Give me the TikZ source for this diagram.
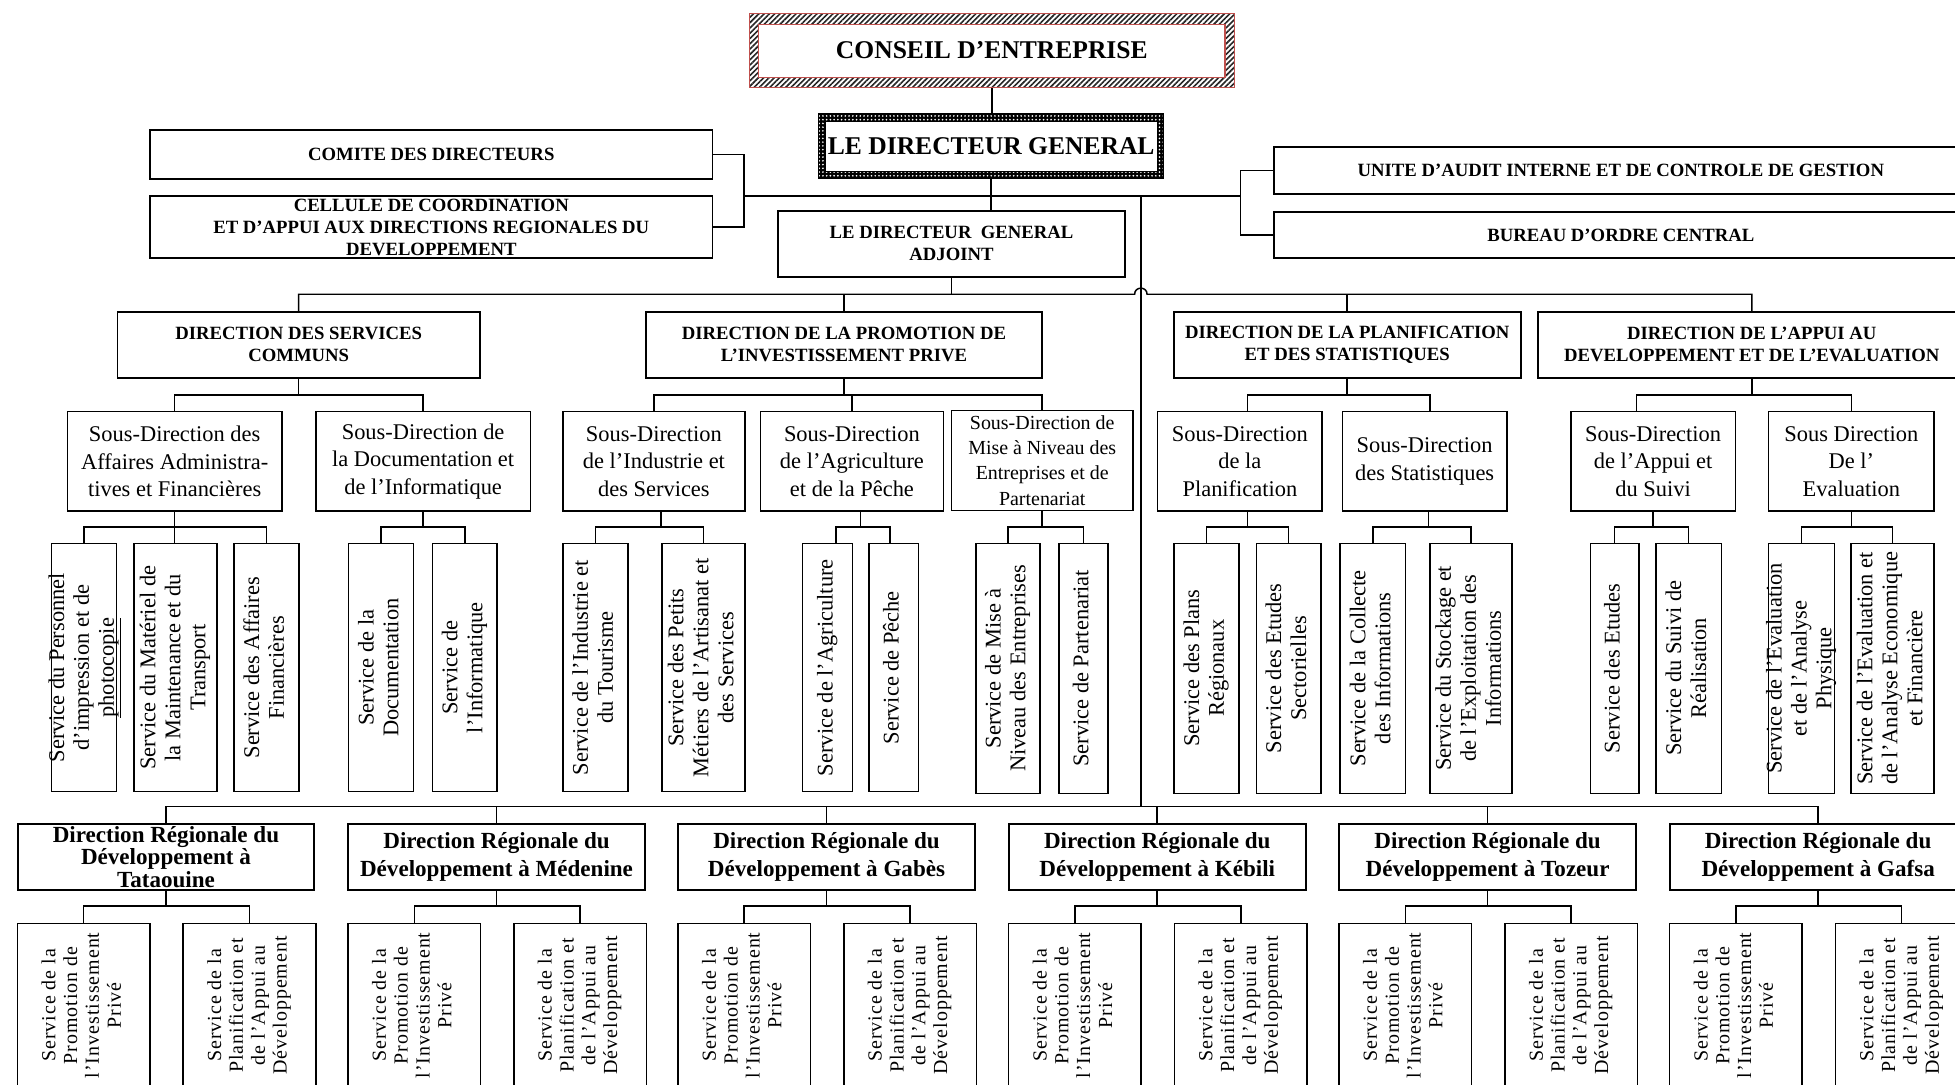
\documentclass[tikz,border=0pt]{standalone}
\usepackage{fontspec}
\setmainfont{Liberation Serif}
\newfontfamily\spacedserif[LetterSpace=5]{Liberation Serif}
\usetikzlibrary{patterns.meta}
\definecolor{framered}{RGB}{192,80,77}
% vertical (bottom-to-top) multi-line label, centred, allowed to overflow its box
\newcommand\svtext[1]{\makebox[0pt]{\rotatebox{90}{\begin{tabular}{@{}c@{}}#1\end{tabular}}}}

\begin{document}
\begin{tikzpicture}[x=1pt,y=-1pt,
  box/.style={draw, line width=1.3pt, fill=white, inner sep=0pt, align=center},
  hdr/.style={box, line width=1.5pt, font=\bfseries\fontsize{15}{17.5}\selectfont},
  subdir/.style={box, font=\fontsize{18}{22}\selectfont},
  svc/.style={box, line width=1.2pt, font=\fontsize{18}{20}\selectfont},
  regdir/.style={box, line width=1.5pt, minimum width=238, minimum height=52.9, font=\bfseries\fontsize{18.5}{22}\selectfont},
  regsvc/.style={box, line width=1.2pt, minimum width=106.3, minimum height=131.4, font=\spacedserif\fontsize{16}{17.5}\selectfont},
  conn/.style={line width=1.2pt},
  conseilbox/.style={draw=framered, line width=1.2pt,
    pattern={Lines[angle=45,distance=3pt,line width=1.3pt]}, pattern color=black!85,
    minimum width=389, minimum height=59.3, inner sep=0pt,
    font=\bfseries\fontsize{20.5}{24}\selectfont,
    path picture={\draw[framered, fill=white, line width=1.2pt]
      ([xshift=7.5pt,yshift=-8.8pt]path picture bounding box.north west) rectangle
      ([xshift=-7.5pt,yshift=8pt]path picture bounding box.south east);}},
  dgbox/.style={draw=black, line width=0.8pt, preaction={fill=black},
    pattern={Dots[radius=0.75pt,distance=3pt]}, pattern color=white,
    minimum width=277, minimum height=52.6, inner sep=0pt,
    font=\bfseries\fontsize{20.5}{24}\selectfont,
    path picture={\draw[black, fill=white, line width=1pt]
      ([xshift=5.5pt,yshift=-6.7pt]path picture bounding box.north west) rectangle
      ([xshift=-5pt,yshift=5.8pt]path picture bounding box.south east);}},
]
\useasboundingbox (0,0) rectangle (1568,870);
\fill[white] (0,0) rectangle (1568,870);
\clip (0,0) rectangle (1568,870);

% ---------------- top management ----------------
\node[conseilbox] (conseil) at (795.5,40.35) {CONSEIL D’ENTREPRISE};
\node[dgbox] (dg) at (795,117.2) {LE DIRECTEUR GENERAL};
\node[hdr, minimum width=451.2, minimum height=39.5] (comite) at (345.9,124.05) {COMITE DES DIRECTEURS};
\node[hdr, minimum width=451.2, minimum height=50] (cellule) at (345.9,182.2)
  {CELLULE DE COORDINATION\\ET D’APPUI AUX DIRECTIONS REGIONALES DU\\DEVELOPPEMENT};
\node[hdr, minimum width=556.8, minimum height=38] (unite) at (1300,136.6)
  {UNITE D’AUDIT INTERNE ET DE CONTROLE DE GESTION};
\node[hdr, minimum width=556.8, minimum height=37.4] (bureau) at (1300,188.5) {BUREAU D’ORDRE CENTRAL};
\node[hdr, minimum width=278.3, minimum height=53] (dga) at (763.15,195.5) {LE DIRECTEUR~~GENERAL\\ADJOINT};

% ---------------- directions ----------------
\node[hdr, minimum width=290.8, minimum height=53] (dsc) at (239.6,276.5) {DIRECTION DES SERVICES\\COMMUNS};
\node[hdr, minimum width=318.2, minimum height=53] (dpip) at (676.9,276.5) {DIRECTION DE LA PROMOTION DE\\L’INVESTISSEMENT PRIVE};
\node[hdr, minimum width=278.2, minimum height=53] (dps) at (1080.5,276.5) {DIRECTION DE LA PLANIFICATION\\ET DES STATISTIQUES};
\node[hdr, minimum width=343.6, minimum height=53] (dad) at (1405,276.5) {DIRECTION DE L’APPUI AU\\DEVELOPPEMENT ET DE L’EVALUATION};

% ---------------- sous-directions ----------------
\node[subdir, minimum width=172.2, minimum height=80] (sd1) at (140.1,370) {Sous-Direction des\\Affaires Administra-\\tives et Financières};
\node[subdir, minimum width=172.3, minimum height=80] (sd2) at (339.35,370) {Sous-Direction de\\la Documentation et\\de l’Informatique};
\node[subdir, minimum width=145.9, minimum height=80] (sd3) at (524.45,370) {Sous-Direction\\de l’Industrie et\\des Services};
\node[subdir, minimum width=146.6, minimum height=80] (sd4) at (683.3,370) {Sous-Direction\\de l’Agriculture\\et de la Pêche};
\node[subdir, minimum width=145.8, minimum height=80, font=\fontsize{16}{20.3}\selectfont] (sd5) at (835.9,369.3)
  {Sous-Direction de\\Mise à Niveau des\\Entreprises et de\\Partenariat};
\node[subdir, minimum width=131.9, minimum height=80] (sd6) at (994.45,370) {Sous-Direction\\de la\\Planification};
\node[subdir, minimum width=131.7, minimum height=80] (sd7) at (1142.65,370) {Sous-Direction\\des Statistiques};
\node[subdir, minimum width=131.8, minimum height=80] (sd8) at (1325.9,370) {Sous-Direction\\de l’Appui et\\du Suivi};
\node[subdir, minimum width=132.7, minimum height=80] (sd9) at (1484.85,370) {Sous Direction\\De l’\\Evaluation};

% ---------------- services ----------------
\node[svc, minimum width=52.3, minimum height=199] (s1) at (67.35,535.5) {\svtext{Service du Personnel\\d’impression et de\\\underline{photocopie}}};
\node[svc, minimum width=66.5, minimum height=199] (s2) at (140.65,535.5) {\svtext{Service du Matériel de\\la Maintenance et du\\Transport}};
\node[svc, minimum width=52.1, minimum height=199] (s3) at (213.75,535.5) {\svtext{Service des Affaires\\Financières}};
\node[svc, minimum width=52, minimum height=199] (s4) at (305.6,535.5) {\svtext{Service de la\\Documentation}};
\node[svc, minimum width=52, minimum height=199] (s5) at (372.8,535.5) {\svtext{Service de\\l’Informatique}};
\node[svc, minimum width=52, minimum height=199] (s6) at (477.5,535.5) {\svtext{Service de l’Industrie et\\du Tourisme}};
\node[svc, minimum width=66.6, minimum height=199] (s7) at (564.1,535.5) {\svtext{Service des Petits\\Métiers de l’Artisanat et\\des Services}};
\node[svc, minimum width=40, minimum height=199] (s8) at (663.7,535.5) {\svtext{Service de l’Agriculture}};
\node[svc, minimum width=39.6, minimum height=199] (s9) at (716.8,535.5) {\svtext{Service de Pêche}};
\node[svc, minimum width=51.7, minimum height=200.5] (s10) at (808.45,536) {\svtext{Service de Mise à\\Niveau des Entreprises}};
\node[svc, minimum width=39.6, minimum height=200.5] (s11) at (869,536) {\svtext{Service de Partenariat}};
\node[svc, minimum width=51.9, minimum height=200.5] (s12) at (967.65,536) {\svtext{Service des Plans\\Régionaux}};
\node[svc, minimum width=51.9, minimum height=200.5] (s13) at (1033.55,536) {\svtext{Service des Etudes\\Sectorielles}};
\node[svc, minimum width=52.6, minimum height=200.5] (s14) at (1101.1,536) {\svtext{Service de la Collecte\\des Informations}};
\node[svc, minimum width=65.9, minimum height=200.5] (s15) at (1179.75,536) {\svtext{Service du Stockage et\\de l’Exploitation des\\Informations}};
\node[svc, minimum width=38.7, minimum height=200.5] (s16) at (1295.05,536) {\svtext{Service des Etudes}};
\node[svc, minimum width=52.7, minimum height=200.5] (s17) at (1354.35,536) {\svtext{Service du Suivi de\\Réalisation}};
\node[svc, minimum width=52.8, minimum height=200.5] (s18) at (1444.9,536) {\svtext{Service de l’Evaluation\\et de l’Analyse\\Physique}};
\node[svc, minimum width=66.8, minimum height=200.5] (s19) at (1517.8,536) {\svtext{Service de l’Evaluation et\\de l’Analyse Economique\\et Financière}};

% ---------------- regional directions ----------------
\node[regdir, font=\bfseries\fontsize{18.5}{18}\selectfont] (dr1) at (133.1,687.35) {Direction Régionale du\\Développement à\\Tataouine};
\node[regdir] (dr2) at (398.25,687.35) {Direction Régionale du\\Développement à Médenine};
\node[regdir] (dr3) at (662.9,687.35) {Direction Régionale du\\Développement à Gabès};
\node[regdir] (dr4) at (928.15,687.35) {Direction Régionale du\\Développement à Kébili};
\node[regdir] (dr5) at (1193.1,687.35) {Direction Régionale du\\Développement à Tozeur};
\node[regdir] (dr6) at (1458.25,687.35) {Direction Régionale du\\Développement à Gafsa};
\foreach \i/\cx in {1/133.1,2/398.25,3/662.9,4/928.15,5/1193.1,6/1458.25} {
  \node[regsvc] (dp\i) at (\cx-66,806.3) {\svtext{Service de la\\Promotion de\\l’Investissement\\Privé}};
  \node[regsvc] (dq\i) at (\cx+67,806.3) {\svtext{Service de la\\Planification et\\de l’Appui au\\Développement}};
}

% ---------------- connector levels ----------------
\coordinate (yB) at (0,236);
\coordinate (yC) at (0,316.8);
\coordinate (yD) at (0,422.8);
\coordinate (yE) at (0,647);
\coordinate (yF) at (0,726.7);
\coordinate (lb) at (596.6,157.2);
\coordinate (rb) at (995,157.2);
\coordinate (vt) at (915,157.2);
\coordinate (vb) at (915,647);

% off-centre attachment points
\coordinate (d6t) at ([xshift=6.15pt]sd6.north);
\coordinate (d7t) at ([xshift=4.15pt]sd7.north);
\coordinate (d8t) at ([xshift=-13.2pt]sd8.north);
\coordinate (d3b) at ([xshift=5.75pt]sd3.south);
\coordinate (d4b) at ([xshift=6.7pt]sd4.south);
\coordinate (d6b) at ([xshift=6.15pt]sd6.south);
\coordinate (d7b) at ([xshift=2.95pt]sd7.south);
\coordinate (s8t) at ([xshift=6.7pt]s8.north);
\coordinate (s9t) at ([xshift=-2.9pt]s9.north);

% ---------------- connectors ----------------
\draw[conn] (conseil.south) -- (conseil.south |- dg.north);
\draw[conn] (dg.south) -- (dg.south |- dga.north);
\draw[conn] (lb) -- (rb);
\draw[conn] (comite.east) -| (lb) |- (cellule.east);
\draw[conn] (unite.west) -| (rb) |- (bureau.west);
\draw[conn] (vt) -- (vb);

\draw[conn] (dga.south) -- (dga.south |- yB);
\draw[conn] (dsc.north) |- (910,236) .. controls (910,229.5) and (920,229.5) .. (920,236) -| (dad.north);
\draw[conn] (dpip.north) -- (dpip.north |- yB);
\draw[conn] (dps.north) -- (dps.north |- yB);

\draw[conn] (sd1.north) |- (dsc.south |- yC) -| (sd2.north);
\draw[conn] (dsc.south) -- (dsc.south |- yC);
\draw[conn] (sd3.north) |- (dpip.south |- yC) -| (sd5.north);
\draw[conn] (sd4.north) -- (sd4.north |- yC);
\draw[conn] (dpip.south) -- (dpip.south |- yC);
\draw[conn] (d6t) |- (dps.south |- yC) -| (d7t);
\draw[conn] (dps.south) -- (dps.south |- yC);
\draw[conn] (d8t) |- (dad.south |- yC) -| (sd9.north);
\draw[conn] (dad.south) -- (dad.south |- yC);

\draw[conn] (s1.north) |- (sd1.south |- yD) -| (s3.north);
\draw[conn] (sd1.south) -- (sd1.south |- s2.north);
\draw[conn] (s4.north) |- (sd2.south |- yD) -| (s5.north);
\draw[conn] (sd2.south) -- (sd2.south |- yD);
\draw[conn] (s6.north) |- (d3b |- yD) -| (s7.north);
\draw[conn] (d3b) -- (d3b |- yD);
\draw[conn] (s8t) |- (d4b |- yD) -| (s9t);
\draw[conn] (d4b) -- (d4b |- yD);
\draw[conn] (s10.north) |- (sd5.south |- yD) -| (s11.north);
\draw[conn] (sd5.south) -- (sd5.south |- yD);
\draw[conn] (s12.north) |- (d6b |- yD) -| (s13.north);
\draw[conn] (d6b) -- (d6b |- yD);
\draw[conn] (s14.north) |- (d7b |- yD) -| (s15.north);
\draw[conn] (d7b) -- (d7b |- yD);
\draw[conn] (s16.north) |- (sd8.south |- yD) -| (s17.north);
\draw[conn] (sd8.south) -- (sd8.south |- yD);
\draw[conn] (s18.north) |- (sd9.south |- yD) -| (s19.north);
\draw[conn] (sd9.south) -- (sd9.south |- yD);

\draw[conn] (dr1.north) |- (vb) -| (dr6.north);
\foreach \i in {2,3,4,5} { \draw[conn] (dr\i.north) -- (dr\i.north |- yE); }
\foreach \i in {1,...,6} {
  \draw[conn] (dp\i.north) |- (dr\i.south |- yF) -| (dq\i.north);
  \draw[conn] (dr\i.south) -- (dr\i.south |- yF);
}
\end{tikzpicture}
\end{document}
